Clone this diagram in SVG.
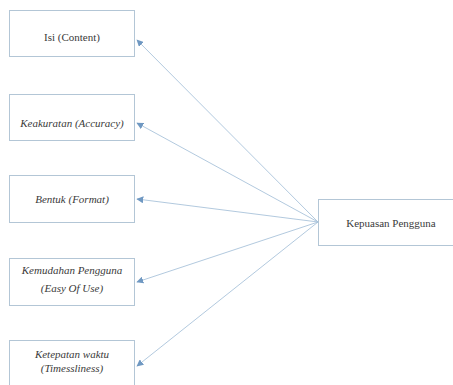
<svg xmlns="http://www.w3.org/2000/svg" width="453" height="385" viewBox="0 0 453 385">
<style>
.box{fill:#ffffff;stroke:#b3c6d6;stroke-width:1}
.t{font-family:'Liberation Serif','Times New Roman','DejaVu Serif',serif;font-size:11px;fill:#3a3a3a;text-anchor:middle}
.i{font-style:italic}
.c{stroke:#a9c3da;stroke-width:0.9;fill:none;marker-end:url(#ah)}
</style>
<defs>
<marker id="ah" viewBox="0 0 10 10" refX="9" refY="5" markerWidth="7" markerHeight="7" orient="auto" markerUnits="userSpaceOnUse">
<path d="M0,0 L10,5 L0,10 z" fill="#6f98c2"/>
</marker>
</defs>
<rect width="453" height="385" fill="#ffffff"/>
<g id="connectors">
<line class="c" x1="318" y1="222" x2="137" y2="40"/>
<line class="c" x1="318" y1="222" x2="137" y2="123"/>
<line class="c" x1="318" y1="222" x2="137" y2="199"/>
<line class="c" x1="318" y1="222" x2="137" y2="282"/>
<line class="c" x1="318" y1="222" x2="137" y2="366"/>
</g>
<g id="n1"><rect class="box" x="9.5" y="10.5" width="125" height="46"/><text class="t" x="72" y="41">Isi (Content)</text></g>
<g id="n2"><rect class="box" x="9.5" y="94.5" width="125" height="46"/><text class="t i" x="72" y="127">Keakuratan (Accuracy)</text></g>
<g id="n3"><rect class="box" x="9.5" y="175.5" width="125" height="47"/><text class="t i" x="72" y="203">Bentuk (Format)</text></g>
<g id="n4"><rect class="box" x="9.5" y="258.5" width="125" height="47"/><text class="t i" x="72" y="274">Kemudahan Pengguna</text><text class="t i" x="72" y="292">(Easy Of Use)</text></g>
<g id="n5"><rect class="box" x="9.5" y="340.5" width="125" height="50"/><text class="t i" x="72" y="358">Ketepatan waktu</text><text class="t i" x="72" y="372">(Timessliness)</text></g>
<g id="n6"><rect class="box" x="318.5" y="199.5" width="140" height="46"/><text class="t" x="391" y="227">Kepuasan Pengguna</text></g>
</svg>
